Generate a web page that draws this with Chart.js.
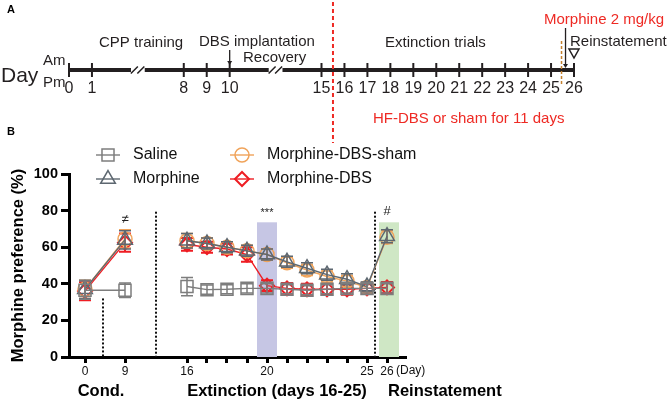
<!DOCTYPE html>
<html lang="en">
<head>
  <meta charset="UTF-8">
  <title>Morphine preference - DBS</title>
  <script src="https://cdn.jsdelivr.net/npm/chart.js"></script>
  <style>
    body {
      margin: 0;
      background: #fff;
    }

    #wrap {
      position: relative;
      width: 669px;
      height: 406px;
    }

    canvas {
      position: absolute;
      left: 0;
      top: 0;
    }
  </style>
</head>
<body>

  <div id="wrap">
    <canvas id="panelB" width="669" height="406"></canvas>
    <canvas id="panelA" width="669" height="406"></canvas>
  </div>

  <script>
    // ---- panel A: timeline ----
    const timelineDays = [0, 1, 8, 9, 10, 15, 16, 17, 18, 19, 20, 21, 22, 23, 24, 25, 26];
    const breakAfter = [1, 10];

    // ---- panel B: preference scores ----
    const days = [0, 9, 16, 17, 18, 19, 20, 21, 22, 23, 24, 25, 26];
    const dayLabels = ['0', '9', '16', '', '', '', '20', '', '', '', '', '25', '26'];
    const seriesNames = ['Saline', 'Morphine', 'Morphine-DBS-sham', 'Morphine-DBS'];

    const saline = [36.5, 36.5, 38.5, 36.8, 37, 37.5, 37.5, 37, 36.5, 37, 37.5, 37.5, 37.5];
    const salineErr = [5, 4, 5, 2.5, 2.5, 2.5, 2.5, 2.5, 2.5, 2.5, 2.5, 2.5, 2.5];
    const morphine = [37, 64, 63.5, 62, 60, 58, 56, 52, 48.5, 45, 42.5, 38.5, 66];
    const morphineErr = [5, 5, 4, 3, 3, 3, 3, 3, 3, 3, 3, 2.5, 3.5];
    const sham = [37, 64.5, 63.5, 62, 60, 58, 56, 51.5, 47.5, 44, 41.5, 38, 65.5];
    const shamErr = [5, 5, 4, 3, 3, 3, 3, 3, 3, 3, 3, 2.5, 3.5];
    const dbs = [36, 62.5, 61.5, 60, 59, 56, 39, 37.5, 37, 37, 37, 37.5, 38];
    const dbsErr = [5, 5, 3.5, 3, 3, 4, 3, 3, 3, 3, 3, 2.5, 3];

    const FONT = "'Liberation Sans', Arial, Helvetica, sans-serif";
    const INK = '#231f20';
    const RED = '#ee2a24';

    Chart.defaults.font.family = FONT;
    Chart.defaults.color = '#000';
    Chart.defaults.animation = false;

    function label(ctx, text, x, y, font, color, align) {
      ctx.save();
      ctx.font = font;
      ctx.fillStyle = color || INK;
      ctx.textAlign = align || 'left';
      ctx.textBaseline = 'middle';
      ctx.fillText(text, x, y);
      ctx.restore();
    }

    function arrowDown(ctx, x, y1, y2, color) {
      ctx.save();
      ctx.strokeStyle = color;
      ctx.fillStyle = color;
      ctx.lineWidth = 1.3;
      ctx.beginPath();
      ctx.moveTo(x, y1);
      ctx.lineTo(x, y2 - 3);
      ctx.stroke();
      ctx.beginPath();
      ctx.moveTo(x - 2.5, y2 - 4);
      ctx.lineTo(x + 2.5, y2 - 4);
      ctx.lineTo(x, y2);
      ctx.closePath();
      ctx.fill();
      ctx.restore();
    }

    function vline(ctx, x, y1, y2, color, width, dash) {
      ctx.save();
      ctx.strokeStyle = color;
      ctx.lineWidth = width;
      ctx.setLineDash(dash);
      ctx.beginPath();
      ctx.moveTo(x, y1);
      ctx.lineTo(x, y2);
      ctx.stroke();
      ctx.restore();
    }

    // ===================== PANEL A =====================
    // breaks squeeze the long gaps of the timeline
    function slotA(d) {
      if (d <= 1) return d;
      if (d <= 10) return d - 3;
      return d - 4;
    }

    const breakSlots = breakAfter.map(d => {
      const next = timelineDays[timelineDays.indexOf(d) + 1];
      return (slotA(d) + slotA(next)) / 2;
    });

    const timeline = [{ x: slotA(timelineDays[0]), y: 0 }];
    breakSlots.forEach(c => {
      timeline.push({ x: c - 0.3, y: 0 }, { x: c, y: null }, { x: c + 0.3, y: 0 });
    });
    timeline.push({ x: slotA(timelineDays[timelineDays.length - 1]), y: 0 });

    const timelineText = {
      id: 'timelineText',
      afterDraw(chart) {
        const ctx = chart.ctx;
        const xs = chart.scales.x;
        const y0 = chart.scales.y.getPixelForValue(0);
        const px = d => xs.getPixelForValue(slotA(d));

        // break marks
        ctx.save();
        ctx.strokeStyle = INK;
        ctx.lineWidth = 1.5;
        breakSlots.forEach(c => {
          const x = xs.getPixelForValue(c);
          [-3.5, 3].forEach(off => {
            ctx.beginPath();
            ctx.moveTo(x + off - 3.5, y0 + 3.5);
            ctx.lineTo(x + off + 3.5, y0 - 3.5);
            ctx.stroke();
          });
        });
        ctx.restore();

        timelineDays.forEach(d => label(ctx, String(d), px(d), y0 + 19, '16px ' + FONT, INK, 'center'));

        label(ctx, 'A', 7, 10, 'bold 11px ' + FONT, '#000');
        label(ctx, 'B', 7, 132, 'bold 11px ' + FONT, '#000');

        label(ctx, 'Day', 1, y0 + 6, '21px ' + FONT);
        label(ctx, 'Am', 43, y0 - 9, '15px ' + FONT);
        label(ctx, 'Pm', 43, y0 + 13, '15px ' + FONT);

        label(ctx, 'CPP training', 99, 43, '15px ' + FONT);
        label(ctx, 'DBS implantation', 199, 42, '15px ' + FONT);
        arrowDown(ctx, px(10), 50, y0 - 5, INK);
        label(ctx, 'Recovery', 243, 58, '15px ' + FONT);
        label(ctx, 'Extinction trials', 385, 42.5, '15px ' + FONT);
        label(ctx, 'Reinstatement', 570, 41.5, '15px ' + FONT);
        label(ctx, 'Morphine 2 mg/kg', 544, 20, '15px ' + FONT, RED);
        label(ctx, 'HF-DBS or sham for 11 days', 373, 118.5, '15px ' + FONT, RED);

        // reinstatement test marker
        const xt = px(26);
        ctx.save();
        ctx.strokeStyle = INK;
        ctx.lineWidth = 1.5;
        ctx.beginPath();
        ctx.moveTo(xt - 5, 49);
        ctx.lineTo(xt + 5, 49);
        ctx.lineTo(xt, 58);
        ctx.closePath();
        ctx.stroke();
        ctx.restore();

        const xMid = (px(25) + px(26)) / 2;
        vline(ctx, xMid - 1, 41, 85, '#c4802f', 1.5, [3, 2]);
        arrowDown(ctx, xMid + 3, 28, y0 - 2, INK);

        const xStart = (px(15) + px(16)) / 2;
        vline(ctx, xStart, 2, 143, RED, 2, [4, 3]);
      }
    };

    new Chart(document.getElementById('panelA'), {
      type: 'line',
      data: {
        datasets: [
          {
            data: timeline,
            borderColor: INK,
            borderWidth: 4,
            borderCapStyle: 'butt',
            pointRadius: 0,
            spanGaps: false,
            clip: false
          },
          {
            type: 'scatter',
            data: timelineDays.map(d => ({ x: slotA(d), y: 0 })),
            pointStyle: 'line',
            rotation: 90,
            pointRadius: 7,
            pointBorderWidth: 2,
            pointBorderColor: INK,
            clip: false
          }
        ]
      },
      options: {
        responsive: false,
        events: [],
        layout: { padding: { left: 69, right: 95, top: 63, bottom: 329 } },
        plugins: { legend: { display: false }, tooltip: { enabled: false } },
        scales: {
          x: { type: 'linear', display: false, min: 0, max: slotA(26) },
          y: { type: 'linear', display: false, min: -1, max: 1 }
        }
      },
      plugins: [timelineText]
    });

    // ===================== PANEL B =====================
    // x position on the broken axis: conditioning days are squeezed
    function posB(d) {
      if (d === 0) return 0;
      if (d === 9) return 2;
      return d - 10.9;
    }

    // no line across the conditioning / extinction divide (day 9 -> 16)
    const gapAfter = days.indexOf(9);

    function series(i, vals, errs, color, style, radius, width) {
      return {
        label: seriesNames[i],
        data: days.map((d, k) => ({ x: posB(d), y: vals[k] })),
        errors: errs,
        borderColor: color,
        backgroundColor: 'rgba(0,0,0,0)',
        borderWidth: 1.4,
        segment: {
          borderColor: c => (c.p0DataIndex === gapAfter ? 'rgba(0,0,0,0)' : color)
        },
        pointStyle: style,
        pointRadius: radius,
        pointBorderWidth: width,
        pointBackgroundColor: 'rgba(0,0,0,0)',
        pointBorderColor: color,
        tension: 0,
        clip: false
      };
    }

    const datasets = [
      series(0, saline, salineErr, '#7d7d7d', 'rect', 8.5, 1.5),
      series(1, morphine, morphineErr, '#5d6770', 'triangle', 8.5, 1.5),
      series(2, sham, shamErr, '#f0a35a', 'circle', 7, 1.5),
      series(3, dbs, dbsErr, '#ee1d23', 'rectRot', 7, 2)
    ];

    const backdrop = {
      id: 'backdrop',
      beforeDatasetsDraw(chart) {
        const ctx = chart.ctx;
        const xs = chart.scales.x;
        const ys = chart.scales.y;
        const bottom = ys.getPixelForValue(0);
        const top = ys.getPixelForValue(73.6);

        ctx.save();
        ctx.fillStyle = '#c6c6e4';
        ctx.fillRect(xs.getPixelForValue(posB(20) - 0.5), top,
          xs.getPixelForValue(posB(20) + 0.5) - xs.getPixelForValue(posB(20) - 0.5), bottom - top);
        ctx.fillStyle = '#cfe7c5';
        ctx.fillRect(xs.getPixelForValue(posB(26) - 0.4), top,
          xs.getPixelForValue(posB(26) + 0.6) - xs.getPixelForValue(posB(26) - 0.4), bottom - top);
        ctx.restore();

        // phase separators
        vline(ctx, xs.getPixelForValue(0.9), ys.getPixelForValue(32), bottom, '#111', 2, [2, 2]);
        vline(ctx, xs.getPixelForValue(3.55), ys.getPixelForValue(79.4), bottom, '#111', 2, [2, 2]);
        vline(ctx, xs.getPixelForValue(14.5), ys.getPixelForValue(79.4), bottom, '#111', 2, [2, 2]);
      },
      afterDatasetDraw(chart, args) {
        const ds = chart.data.datasets[args.index];
        const ys = chart.scales.y;
        const ctx = chart.ctx;
        ctx.save();
        ctx.strokeStyle = ds.borderColor;
        ctx.lineWidth = args.index === 3 ? 2 : 1.5;
        args.meta.data.forEach((pt, k) => {
          const v = ds.data[k].y;
          const e = ds.errors[k];
          const y1 = ys.getPixelForValue(v + e);
          const y2 = ys.getPixelForValue(v - e);
          ctx.beginPath();
          ctx.moveTo(pt.x, y1);
          ctx.lineTo(pt.x, y2);
          ctx.moveTo(pt.x - 6, y1);
          ctx.lineTo(pt.x + 6, y1);
          ctx.moveTo(pt.x - 6, y2);
          ctx.lineTo(pt.x + 6, y2);
          ctx.stroke();
        });
        ctx.restore();
      },
      afterDraw(chart) {
        const ctx = chart.ctx;
        const xs = chart.scales.x;
        const ys = chart.scales.y;

        // significance marks
        label(ctx, '\u2260', xs.getPixelForValue(posB(9)), ys.getPixelForValue(75), '13px ' + FONT, '#222', 'center');
        label(ctx, '***', xs.getPixelForValue(posB(20)), ys.getPixelForValue(78.5), '11px ' + FONT, '#222', 'center');
        label(ctx, '#', xs.getPixelForValue(posB(26)), ys.getPixelForValue(79.5), '13px ' + FONT, '#222', 'center');

        label(ctx, '(Day)', xs.getPixelForValue(posB(26)) + 9, 371, '12px ' + FONT, '#111');

        // phase titles
        const bold = 'bold 16.5px ' + FONT;
        label(ctx, 'Cond.', xs.getPixelForValue(0.8), 391, bold, '#000', 'center');
        label(ctx, 'Extinction (days 16-25)',
          (xs.getPixelForValue(posB(16)) + xs.getPixelForValue(posB(25))) / 2, 391, bold, '#000', 'center');
        label(ctx, 'Reinstatement', xs.getPixelForValue(posB(26)) + 1, 391, bold, '#000');

        // legend, two columns
        const spots = [[108, 155], [108, 179], [242, 155], [242, 179]];
        chart.data.datasets.forEach((ds, i) => {
          const [mx, my] = spots[i];
          ctx.save();
          ctx.strokeStyle = ds.borderColor;
          ctx.lineWidth = 1.4;
          ctx.beginPath();
          ctx.moveTo(mx - 12, my);
          ctx.lineTo(mx + 12, my);
          ctx.stroke();
          ctx.lineWidth = ds.pointBorderWidth;
          Chart.helpers.drawPoint(ctx, {
            pointStyle: ds.pointStyle,
            radius: ds.pointRadius,
            rotation: 0,
            borderWidth: ds.pointBorderWidth
          }, mx, my);
          ctx.restore();
          label(ctx, ds.label, mx + 25, my, '16px ' + FONT, '#111');
        });
      }
    };

    new Chart(document.getElementById('panelB'), {
      type: 'line',
      data: { datasets: datasets },
      options: {
        responsive: false,
        events: [],
        layout: { padding: { left: 0, right: 264, top: 174, bottom: 20 } },
        plugins: { legend: { display: false }, tooltip: { enabled: false } },
        scales: {
          x: {
            type: 'linear',
            min: -0.8,
            max: 16,
            afterFit: scale => { scale.height = 29; },
            afterBuildTicks: scale => {
              scale.ticks = days.map(d => ({ value: posB(d) }));
            },
            border: { display: true, width: 3, color: '#000' },
            grid: {
              drawOnChartArea: false,
              drawTicks: true,
              tickLength: 6,
              lineWidth: 3,
              color: '#000'
            },
            ticks: {
              autoSkip: false,
              maxRotation: 0,
              padding: 1,
              color: '#111',
              font: { size: 12 },
              callback: (value, index) => dayLabels[index]
            }
          },
          y: {
            min: 0,
            max: 100,
            afterFit: scale => { scale.width = 69; },
            border: { display: true, width: 3, color: '#000' },
            grid: {
              drawOnChartArea: false,
              drawTicks: true,
              tickLength: 8,
              lineWidth: 3,
              color: '#000'
            },
            ticks: {
              stepSize: 20,
              padding: 3,
              color: '#000',
              font: { size: 14.5, weight: 'bold' }
            },
            title: {
              display: true,
              text: 'Morphine preference (%)',
              color: '#000',
              padding: { top: 9, bottom: 0 },
              font: { size: 16.5, weight: 'bold' }
            }
          }
        }
      },
      plugins: [backdrop]
    });
  </script>

</body>
</html>
